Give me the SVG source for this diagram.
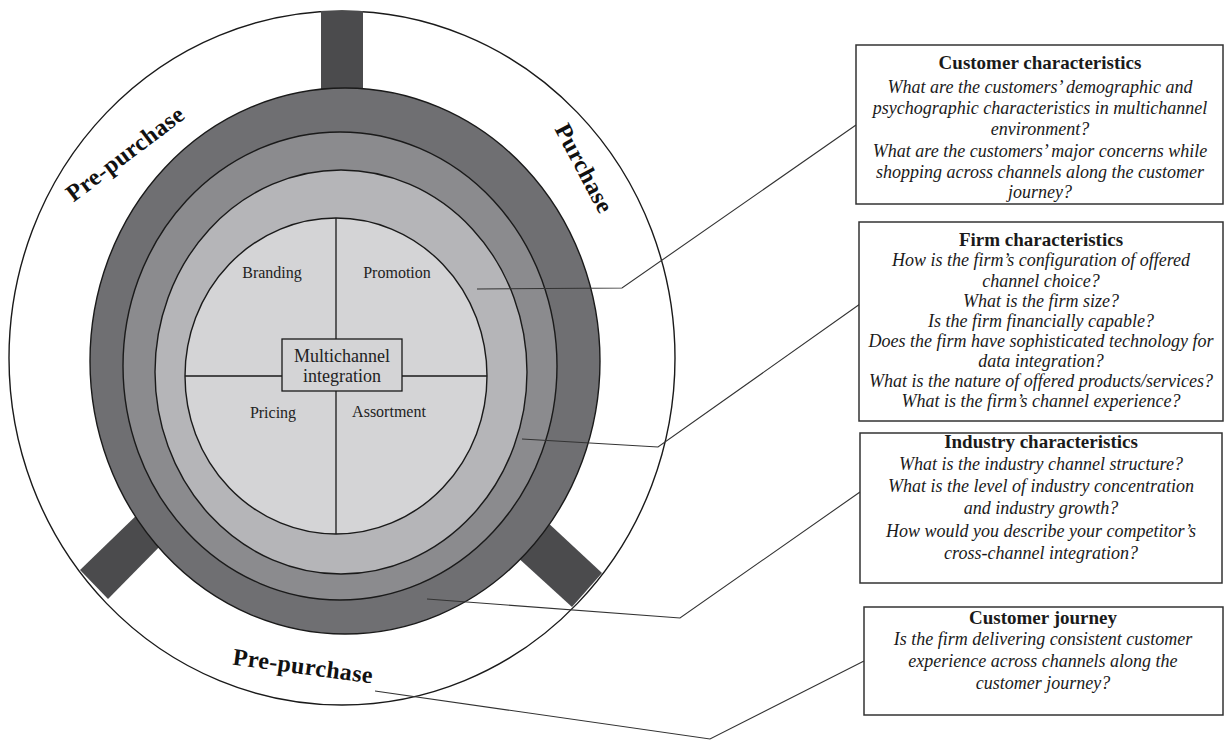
<svg xmlns="http://www.w3.org/2000/svg" width="1225" height="740" viewBox="0 0 1225 740">
<style>
.ring{stroke:#1a1a1a;stroke-width:1.4}
.tab{fill:#4b4b4d;stroke:none}
.lead{fill:none;stroke:#333;stroke-width:1.1}
.box{fill:#fff;stroke:#333;stroke-width:1.5}
.ttl{font-family:"Liberation Serif","Times New Roman",serif;font-weight:bold;font-size:19px;fill:#1a1a1a;text-anchor:middle}
.q{font-family:"Liberation Serif","Times New Roman",serif;font-style:italic;font-size:18px;fill:#1a1a1a;text-anchor:middle}
.lbl{font-family:"Liberation Serif","Times New Roman",serif;font-size:16px;fill:#222;text-anchor:middle}
.ctr{font-family:"Liberation Serif","Times New Roman",serif;font-size:18px;fill:#222;text-anchor:middle}
.stage{font-family:"Liberation Serif","Times New Roman",serif;font-weight:bold;font-size:24px;fill:#111;text-anchor:middle;letter-spacing:0.4px}
</style>
<rect width="1225" height="740" fill="#fff"/>
<g id="wheel">
  <ellipse cx="342" cy="358" rx="333" ry="347" fill="#fff" stroke="#1a1a1a" stroke-width="1.4"/>
  <rect class="tab" x="321" y="11" width="42" height="86"/>
  <polygon class="tab" points="142,510 170,536 108,599 80,570"/>
  <polygon class="tab" points="545,520 515,555 572,607 602,573"/>
  <ellipse class="ring" cx="345" cy="361" rx="255" ry="273" fill="#6f6f72"/>
  <ellipse class="ring" cx="340" cy="366" rx="217" ry="234" fill="#8b8b8e"/>
  <ellipse class="ring" cx="341" cy="372" rx="186" ry="202" fill="#b5b5b8"/>
  <ellipse class="ring" cx="336" cy="376" rx="151" ry="158" fill="#d4d4d6"/>
  <line x1="336" y1="218" x2="336" y2="534" stroke="#1a1a1a" stroke-width="1.3"/>
  <line x1="185" y1="376" x2="487" y2="376" stroke="#1a1a1a" stroke-width="1.3"/>
</g>
<g id="quadrants">
  <text class="lbl" x="272" y="278">Branding</text>
  <text class="lbl" x="397" y="278">Promotion</text>
  <text class="lbl" x="273" y="418">Pricing</text>
  <text class="lbl" x="389" y="417">Assortment</text>
</g>
<g id="center">
  <rect x="282" y="339" width="120" height="52" fill="#d4d4d6" stroke="#1a1a1a" stroke-width="1.3"/>
  <text class="ctr" x="342" y="362">Multichannel</text>
  <text class="ctr" x="342" y="382">integration</text>
</g>
<g id="stages">
  <text class="stage" transform="translate(130,160) rotate(-37)">Pre-purchase</text>
  <text class="stage" transform="translate(577,172) rotate(62)">Purchase</text>
  <text class="stage" transform="translate(302,674) rotate(7.7)">Pre-purchase</text>
</g>
<g id="connectors">
  <polyline class="lead" points="477,289 622,288 856,125"/>
  <polyline class="lead" points="522,439 658,447 860,304"/>
  <polyline class="lead" points="427,599 680,618 860,492"/>
  <polyline class="lead" points="375,691 710,739 864,661"/>
</g>
<g id="customer-characteristics">
  <rect class="box" x="856" y="45" width="367" height="159"/>
  <text class="ttl" x="1040" y="69">Customer characteristics</text>
  <text class="q" x="1040" y="93">What are the customers’ demographic and</text>
  <text class="q" x="1040" y="114">psychographic characteristics in multichannel</text>
  <text class="q" x="1040" y="135">environment?</text>
  <text class="q" x="1040" y="157">What are the customers’ major concerns while</text>
  <text class="q" x="1040" y="178">shopping across channels along the customer</text>
  <text class="q" x="1040" y="198">journey?</text>
</g>
<g id="firm-characteristics">
  <rect class="box" x="859" y="222" width="364" height="199"/>
  <text class="ttl" x="1041" y="246">Firm characteristics</text>
  <text class="q" x="1041" y="266">How is the firm’s configuration of offered</text>
  <text class="q" x="1041" y="287">channel choice?</text>
  <text class="q" x="1041" y="307">What is the firm size?</text>
  <text class="q" x="1041" y="327">Is the firm financially capable?</text>
  <text class="q" x="1041" y="347">Does the firm have sophisticated technology for</text>
  <text class="q" x="1041" y="367">data integration?</text>
  <text class="q" x="1041" y="387">What is the nature of offered products/services?</text>
  <text class="q" x="1041" y="407">What is the firm’s channel experience?</text>
</g>
<g id="industry-characteristics">
  <rect class="box" x="860" y="433" width="362" height="150"/>
  <text class="ttl" x="1041" y="448">Industry characteristics</text>
  <text class="q" x="1041" y="470">What is the industry channel structure?</text>
  <text class="q" x="1041" y="492">What is the level of industry concentration</text>
  <text class="q" x="1041" y="514">and industry growth?</text>
  <text class="q" x="1041" y="537">How would you describe your competitor’s</text>
  <text class="q" x="1041" y="559">cross-channel integration?</text>
</g>
<g id="customer-journey">
  <rect class="box" x="864" y="607" width="359" height="108"/>
  <text class="ttl" x="1043" y="624">Customer journey</text>
  <text class="q" x="1043" y="645">Is the firm delivering consistent customer</text>
  <text class="q" x="1043" y="667">experience across channels along the</text>
  <text class="q" x="1043" y="689">customer journey?</text>
</g>
</svg>
